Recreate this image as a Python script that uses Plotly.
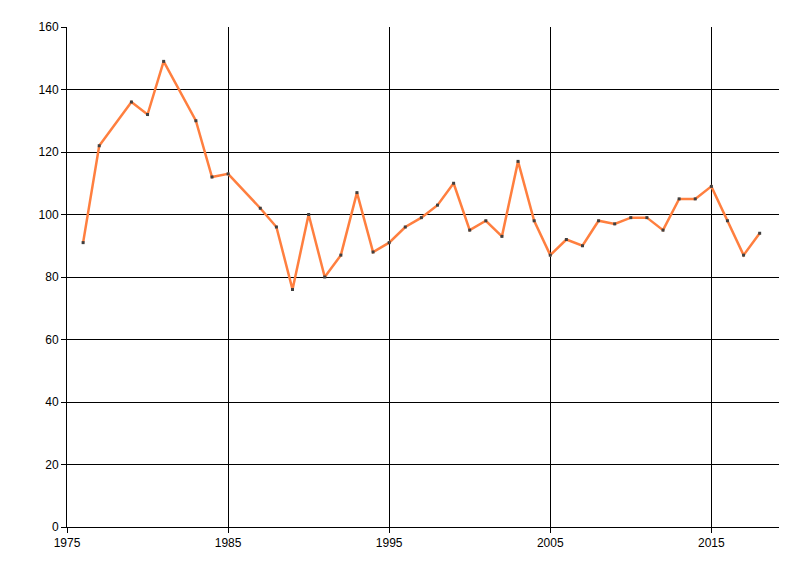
import plotly.graph_objects as go

years = [1976, 1977, 1979, 1980, 1981, 1983, 1984, 1985, 1987, 1988, 1989, 1990,
         1991, 1992, 1993, 1994, 1995, 1996, 1997, 1998, 1999, 2000, 2001, 2002,
         2003, 2004, 2005, 2006, 2007, 2008, 2009, 2010, 2011, 2012, 2013, 2014,
         2015, 2016, 2017, 2018]
values = [91, 122, 136, 132, 149, 130, 112, 113, 102, 96, 76, 100,
          80, 87, 107, 88, 91, 96, 99, 103, 110, 95, 98, 93,
          117, 98, 87, 92, 90, 98, 97, 99, 99, 95, 105, 105,
          109, 98, 87, 94]
x_ticks = [1975, 1985, 1995, 2005, 2015]
y_ticks = [0, 20, 40, 60, 80, 100, 120, 140, 160]

fig = go.Figure()
fig.add_trace(go.Scatter(
    x=years, y=values, mode="lines+markers",
    line=dict(color="#FF7F3F", width=2.5),
    marker=dict(symbol="square", size=3, color="#404040"),
    showlegend=False,
))

fig.update_layout(
    width=800, height=576,
    margin=dict(l=59, r=29, t=19, b=57),
    paper_bgcolor="white", plot_bgcolor="white",
    font=dict(family="Liberation Sans, Arial, sans-serif", size=12, color="#000000"),
    xaxis=dict(
        range=[1975, 2019.2], tickvals=x_ticks, ticktext=[str(t) for t in x_ticks],
        showgrid=True, gridcolor="#000000", gridwidth=1,
        showline=True, linecolor="#000000", linewidth=1,
        ticks="outside", ticklen=5, tickcolor="#000000",
        zeroline=False,
    ),
    yaxis=dict(
        range=[0, 160], tickvals=y_ticks,
        showgrid=True, gridcolor="#000000", gridwidth=1,
        showline=True, linecolor="#000000", linewidth=1,
        ticks="outside", ticklen=5, tickcolor="#000000",
        zeroline=False,
    ),
)

fig.write_html("out.html")
